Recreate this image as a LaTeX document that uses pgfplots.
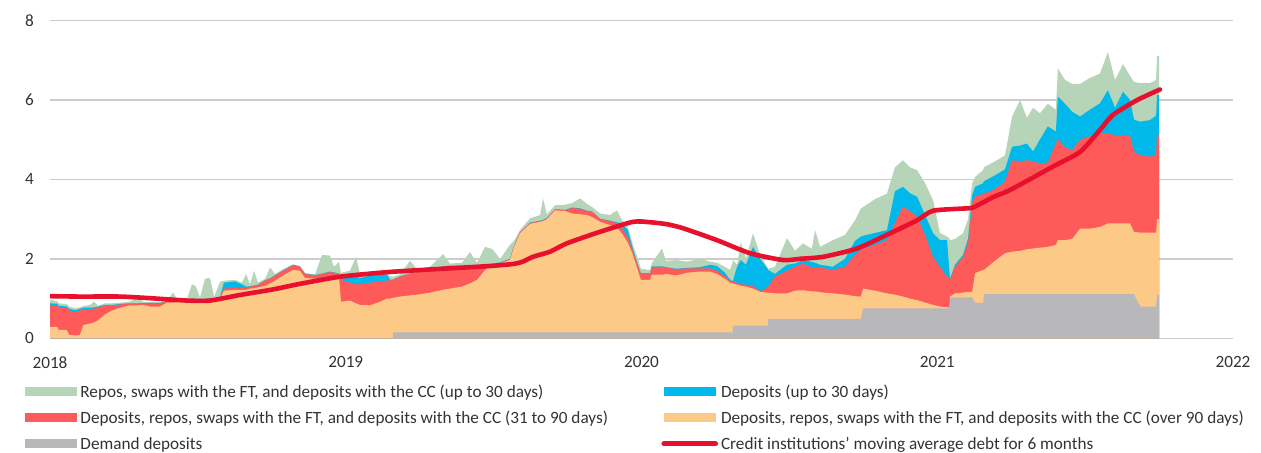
\documentclass[border=0pt]{standalone}
\usepackage{pgfplots}
\pgfplotsset{compat=1.18}
\usepackage{pgfplotstable}
\usepackage{fontspec}
\setmainfont{Carlito}

\definecolor{cG}{HTML}{B6D4B8}
\definecolor{cB}{HTML}{00B8EA}
\definecolor{cR}{HTML}{FF5A5A}
\definecolor{cO}{HTML}{FDC987}
\definecolor{cY}{HTML}{B8B8BB}
\definecolor{cMA}{HTML}{E8112D}
\definecolor{cGrid}{HTML}{CCCCCC}
\definecolor{cTxt}{HTML}{333333}

\pgfplotsset{
  arealeg/.style={legend image code/.code={\fill[##1] (0pt,-2.35pt) rectangle (26pt,2.35pt);}},
  lineleg/.style={legend image code/.code={\draw[##1] (0pt,0pt) -- (26pt,0pt);}},
}

% cumulative tops of the stacked layers: Y gray, O orange, R red, B blue, G green
\pgfplotstableread{
t Y O R B G
2018.000 0 0.29 0.83 0.88 0.98
2018.024 0 0.29 0.83 0.87 0.93
2018.030 0 0.21 0.78 0.82 0.88
2018.057 0 0.21 0.76 0.80 0.86
2018.064 0 0.09 0.70 0.74 0.80
2018.085 0 0.07 0.66 0.71 0.76
2018.101 0 0.08 0.70 0.74 0.78
2018.112 0 0.33 0.74 0.77 0.81
2018.135 0 0.37 0.73 0.77 0.84
2018.149 0 0.40 0.75 0.78 0.92
2018.162 0 0.45 0.78 0.80 0.82
2018.186 0 0.60 0.82 0.84 0.88
2018.210 0 0.70 0.82 0.84 0.88
2018.243 0 0.78 0.86 0.87 0.90
2018.270 0 0.83 0.87 0.88 0.92
2018.298 0 0.83 0.87 0.88 1.05
2018.314 0 0.84 0.88 0.89 0.92
2018.338 0 0.80 0.88 0.89 0.91
2018.372 0 0.80 0.88 0.89 0.91
2018.396 0 0.90 0.93 0.94 0.96
2018.416 0 0.90 0.93 0.94 1.15
2018.433 0 0.91 0.93 0.94 0.96
2018.463 0 0.93 0.96 0.97 0.99
2018.480 0 0.95 0.98 0.99 1.36
2018.494 0 0.95 0.98 0.99 1.30
2018.507 0 0.95 0.98 0.99 1.02
2018.524 0 0.95 0.98 0.99 1.50
2018.541 0 0.96 0.99 1.00 1.52
2018.555 0 0.96 0.99 1.00 1.04
2018.575 0 1.00 1.03 1.04 1.42
2018.588 0 1.20 1.25 1.40 1.45
2018.626 0 1.22 1.28 1.43 1.47
2018.649 0 1.22 1.26 1.36 1.40
2018.663 0 1.22 1.28 1.30 1.62
2018.676 0 1.25 1.30 1.31 1.36
2018.690 0 1.26 1.32 1.33 1.70
2018.703 0 1.28 1.34 1.35 1.40
2018.727 0 1.32 1.45 1.46 1.50
2018.744 0 1.38 1.50 1.51 1.78
2018.761 0 1.45 1.58 1.59 1.62
2018.788 0 1.58 1.70 1.71 1.74
2018.822 0 1.72 1.84 1.85 1.86
2018.845 0 1.70 1.80 1.81 1.82
2018.862 0 1.52 1.62 1.63 1.64
2018.896 0 1.50 1.58 1.59 1.61
2018.920 0 1.52 1.62 1.63 2.10
2018.947 0 1.55 1.67 1.68 2.08
2018.960 0 1.55 1.65 1.66 1.80
2018.977 0 1.55 1.62 1.63 1.92
2018.984 0 0.92 1.47 1.55 1.65
2019.014 0 0.95 1.40 1.55 1.70
2019.035 0 0.88 1.36 1.55 2.05
2019.048 0 0.84 1.36 1.52 1.62
2019.082 0 0.83 1.40 1.58 1.62
2019.116 0 0.92 1.43 1.60 1.63
2019.139 0 1.00 1.45 1.61 1.63
2019.150 0 1.00 1.46 1.47 1.56
2019.159 0 1.02 1.47 1.48 1.55
2019.160 0.15 1.02 1.47 1.48 1.55
2019.183 0.15 1.05 1.55 1.56 1.60
2019.217 0.15 1.08 1.62 1.63 1.95
2019.244 0.15 1.10 1.66 1.67 1.72
2019.285 0.15 1.15 1.74 1.75 1.80
2019.329 0.15 1.22 1.80 1.81 2.12
2019.352 0.15 1.25 1.82 1.83 1.88
2019.393 0.15 1.30 1.82 1.83 1.90
2019.420 0.15 1.38 1.82 1.83 2.17
2019.444 0.15 1.47 1.82 1.83 1.90
2019.471 0.15 1.72 1.80 1.81 2.30
2019.495 0.15 1.84 1.86 1.87 2.25
2019.522 0.15 1.88 1.90 1.91 2.00
2019.555 0.15 1.97 1.99 2.00 2.35
2019.569 0.15 2.30 2.32 2.33 2.45
2019.589 0.15 2.64 2.66 2.67 2.72
2019.623 0.15 2.88 2.90 2.91 3.02
2019.657 0.15 2.93 2.95 2.96 3.10
2019.667 0.15 2.95 2.97 2.98 3.52
2019.680 0.15 3.00 3.02 3.03 3.12
2019.708 0.15 3.22 3.24 3.25 3.35
2019.741 0.15 3.20 3.22 3.23 3.36
2019.765 0.15 3.14 3.28 3.29 3.40
2019.792 0.15 3.12 3.26 3.27 3.52
2019.816 0.15 3.10 3.20 3.21 3.38
2019.833 0.15 3.05 3.18 3.19 3.30
2019.860 0.15 2.93 3.00 3.01 3.14
2019.893 0.15 2.85 2.95 2.96 3.10
2019.917 0.15 2.78 2.90 2.92 3.22
2019.934 0.15 2.64 2.77 2.89 2.97
2019.954 0.15 2.40 2.55 2.72 2.80
2019.971 0.15 2.10 2.20 2.25 2.35
2019.988 0.15 1.70 1.82 1.85 2.00
2019.998 0.15 1.47 1.63 1.64 1.75
2020.029 0.15 1.47 1.63 1.64 1.72
2020.035 0.15 1.60 1.80 1.81 1.89
2020.069 0.15 1.60 1.80 1.81 2.26
2020.083 0.15 1.62 1.78 1.79 1.95
2020.117 0.15 1.58 1.74 1.75 1.97
2020.154 0.15 1.65 1.76 1.77 1.93
2020.198 0.15 1.68 1.76 1.79 2.00
2020.232 0.15 1.68 1.76 1.85 1.93
2020.255 0.15 1.62 1.70 1.82 1.90
2020.282 0.15 1.50 1.56 1.65 1.80
2020.299 0.15 1.40 1.45 1.48 1.72
2020.308 0.15 1.38 1.42 1.44 1.90
2020.309 0.32 1.38 1.42 1.44 1.97
2020.323 0.32 1.35 1.40 1.80 1.85
2020.336 0.32 1.32 1.36 1.97 2.43
2020.353 0.32 1.30 1.35 1.85 2.00
2020.377 0.32 1.25 1.32 2.30 2.64
2020.401 0.32 1.17 1.18 2.00 2.10
2020.427 0.32 1.15 1.28 1.74 1.77
2020.428 0.49 1.15 1.30 1.72 1.75
2020.451 0.49 1.13 1.55 1.62 1.80
2020.492 0.49 1.13 1.70 1.85 2.52
2020.519 0.49 1.20 1.80 1.88 2.20
2020.546 0.49 1.21 1.88 1.97 2.39
2020.576 0.49 1.18 1.78 1.92 2.25
2020.587 0.49 1.18 1.78 1.90 2.72
2020.604 0.49 1.16 1.78 1.85 2.30
2020.647 0.49 1.13 1.72 1.80 2.47
2020.688 0.49 1.10 1.80 2.00 2.60
2020.722 0.49 1.06 2.10 2.45 2.97
2020.742 0.49 1.05 2.22 2.56 3.27
2020.749 0.75 1.25 2.25 2.58 3.30
2020.789 0.75 1.20 2.35 2.65 3.50
2020.830 0.75 1.13 2.47 2.72 3.64
2020.857 0.75 1.10 2.90 3.70 4.30
2020.884 0.75 1.05 3.31 3.81 4.48
2020.908 0.75 1.00 3.20 3.65 4.30
2020.932 0.75 0.96 3.06 3.56 4.23
2020.959 0.75 0.90 2.60 3.10 3.90
2020.986 0.75 0.84 2.05 2.64 3.47
2021.009 0.75 0.80 1.80 2.47 2.65
2021.033 0.75 0.78 1.55 2.47 2.56
2021.042 0.75 0.78 1.50 1.60 2.50
2021.043 1.03 1.05 1.47 1.50 2.47
2021.060 1.03 1.13 1.80 1.85 2.50
2021.087 1.03 1.15 2.05 2.10 2.64
2021.104 1.03 1.17 2.40 2.50 3.00
2021.118 1.03 1.17 3.40 3.60 3.90
2021.128 0.89 1.64 3.56 3.81 4.06
2021.155 0.89 1.72 3.64 3.90 4.23
2021.158 1.11 1.72 3.64 3.95 4.30
2021.195 1.11 1.95 3.75 4.10 4.45
2021.229 1.11 2.14 3.95 4.25 4.60
2021.253 1.11 2.18 4.48 4.82 5.58
2021.280 1.11 2.20 4.45 4.85 5.99
2021.303 1.11 2.24 4.48 4.90 5.55
2021.324 1.11 2.26 4.45 4.70 5.80
2021.347 1.11 2.28 4.40 5.00 5.66
2021.374 1.11 2.30 4.42 5.33 5.90
2021.401 1.11 2.35 4.90 5.20 5.75
2021.408 1.11 2.47 5.00 6.08 6.79
2021.432 1.11 2.47 4.80 5.90 6.50
2021.456 1.11 2.50 4.74 5.70 6.40
2021.483 1.11 2.76 5.00 5.58 6.40
2021.516 1.11 2.76 5.08 5.75 6.55
2021.550 1.11 2.80 5.16 5.91 6.66
2021.577 1.11 2.89 5.16 6.24 7.20
2021.601 1.11 2.89 5.10 5.80 6.50
2021.628 1.11 2.89 5.12 6.20 6.90
2021.652 1.11 2.89 5.08 6.00 6.60
2021.665 1.11 2.68 4.70 5.50 6.45
2021.686 0.80 2.66 4.60 5.45 6.42
2021.719 0.80 2.66 4.57 5.49 6.42
2021.740 0.80 2.66 4.62 5.60 6.50
2021.743 1.10 3.00 5.12 6.12 7.10
2021.750 1.10 3.00 5.12 6.12 7.10
}\areadata

% six-month moving average debt
\pgfplotstableread{
t M
2018.000 1.06
2018.101 1.05
2018.237 1.05
2018.338 1.01
2018.463 0.95
2018.541 0.95
2018.642 1.09
2018.754 1.23
2018.845 1.37
2018.981 1.55
2019.150 1.67
2019.376 1.77
2019.488 1.82
2019.566 1.87
2019.599 1.93
2019.633 2.05
2019.691 2.18
2019.748 2.39
2019.860 2.68
2019.971 2.93
2020.029 2.92
2020.086 2.87
2020.140 2.77
2020.255 2.47
2020.367 2.14
2020.478 1.97
2020.536 2.00
2020.614 2.05
2020.729 2.26
2020.840 2.64
2020.932 2.97
2020.986 3.21
2021.101 3.27
2021.124 3.30
2021.191 3.56
2021.246 3.73
2021.391 4.32
2021.483 4.69
2021.550 5.24
2021.594 5.62
2021.675 5.99
2021.753 6.26
}\madata

\begin{document}
\begin{tikzpicture}
\begin{axis}[
  scale only axis,
  width=591.5pt, height=159pt,
  xmin=2018, xmax=2022, ymin=0, ymax=8,
  xtick={2018,2019,2020,2021,2022},
  ytick={0,2,4,6,8},
  /pgf/number format/assume math mode=true,
  xticklabel style={/pgf/number format/1000 sep={}, yshift=-5.5pt},
  yticklabel style={xshift=-4.5pt},
  tick label style={font=\fontsize{8.6}{10.4}\selectfont, text=cTxt},
  ymajorgrids,
  grid style={draw=cGrid, line width=0.8pt},
  axis line style={draw=none},
  major tick length=0pt,
  legend columns=2,
  legend cell align=left,
  legend style={draw=none, fill=none, inner sep=0pt,
    at={(axis description cs:-0.0211,-0.136)}, anchor=north west,
    font=\fontsize{8.6}{10.4}\selectfont, text=cTxt,
    column sep=0pt, row sep=3.2pt,
    nodes={inner xsep=1.5pt, inner ysep=0.5pt}},
]
\addplot[draw=none, fill=cG, arealeg]
  table[x=t, y=G] {\areadata} \closedcycle;
\addlegendentry{\makebox[289pt][l]{\strut Repos, swaps with the FT, and deposits with the CC (up to 30 days)}}
\addplot[draw=none, fill=cB, arealeg]
  table[x=t, y=B] {\areadata} \closedcycle;
\addlegendentry{\strut Deposits (up to 30 days)}
\addplot[draw=none, fill=cR, arealeg]
  table[x=t, y=R] {\areadata} \closedcycle;
\addlegendentry{\makebox[289pt][l]{\strut Deposits, repos, swaps with the FT, and deposits with the CC (31 to 90 days)}}
\addplot[draw=none, fill=cO, arealeg]
  table[x=t, y=O] {\areadata} \closedcycle;
\addlegendentry{\strut Deposits, repos, swaps with the FT, and deposits with the CC (over 90 days)}
\addplot[draw=none, fill=cY, arealeg]
  table[x=t, y=Y] {\areadata} \closedcycle;
\addlegendentry{\makebox[289pt][l]{\strut Demand deposits}}
\addplot[draw=cMA, line width=2.3pt, line cap=round, line join=round, smooth, tension=0.4, lineleg]
  table[x=t, y=M] {\madata};
\addlegendentry{\strut Credit institutions’ moving average debt for 6 months}
\end{axis}
\pgfresetboundingbox
\path (-25pt,-56.85pt) rectangle (605.5pt,169.15pt);
\end{tikzpicture}
\end{document}
